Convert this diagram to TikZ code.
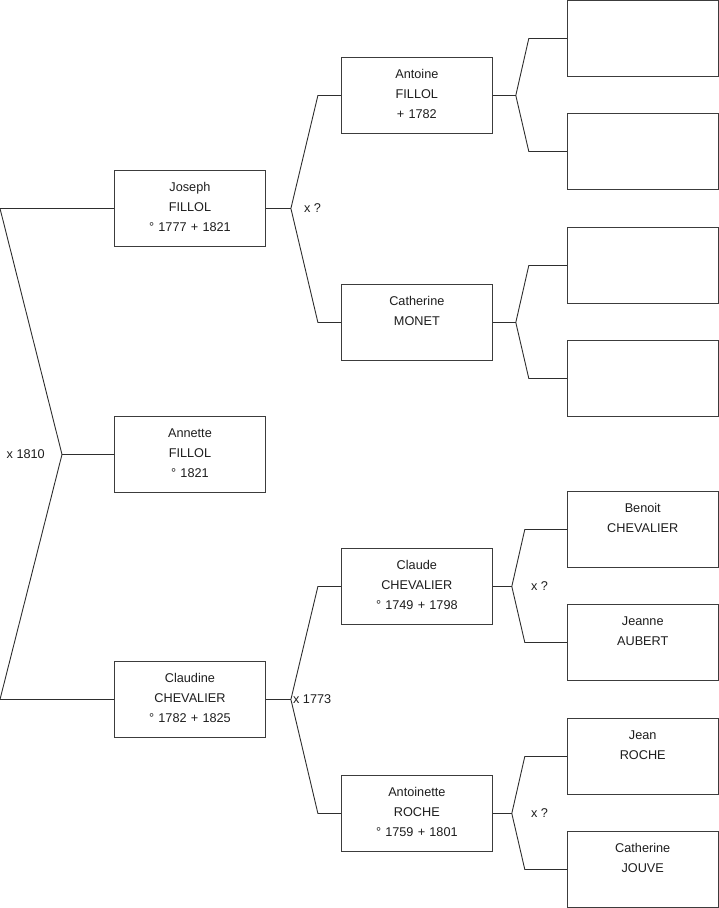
\documentclass[tikz,border=0pt]{standalone}
\usepackage{fontspec}
\setmainfont{Liberation Sans}
\usepackage{tikz}
\usetikzlibrary{positioning}
\definecolor{boxline}{HTML}{3C3C3C}
\definecolor{linkline}{HTML}{2E2E2E}
\definecolor{nametext}{HTML}{1E1E1E}
\tikzset{
  % Person boxes, text set from the top
  person/.style={
    rectangle, draw=boxline, line width=0.9pt, fill=white,
    inner sep=0pt, text width=151pt, align=center,
    text height=21pt, text depth=55pt, text=nametext,
    font=\fontsize{12.7}{20}\selectfont,
  },
  % Family connectors
  link/.style={draw=linkline, line width=0.9pt},
  % Marriage labels
  union/.style={font=\fontsize{12.7}{15}\selectfont, text=nametext, inner sep=1pt},
}
\begin{document}
\begin{tikzpicture}[x=1pt, y=-1pt]
  \useasboundingbox (0,0) rectangle (719,908);

  % Generation 1
  \node[person, anchor=north west] (annette) at (114,416) {Annette\\FILLOL\\° 1821};
  \node[person, anchor=north west] (joseph) at (114,170) {Joseph\\FILLOL\\° 1777 + 1821};
  \node[person, anchor=north west] (claudine) at (114,661) {Claudine\\CHEVALIER\\° 1782 + 1825};

  % Generation 2
  \node[person, right=75pt of joseph, yshift=113pt] (antoine) {Antoine\\FILLOL\\ + 1782};
  \node[person, right=75pt of joseph, yshift=-114pt] (catherine) {Catherine\\MONET};
  \node[person, right=75pt of claudine, yshift=113pt] (claude) {Claude\\CHEVALIER\\° 1749 + 1798};
  \node[person, right=75pt of claudine, yshift=-114pt] (antoinette) {Antoinette\\ROCHE\\° 1759 + 1801};

  % Generation 3
  \node[person, right=74pt of antoine, yshift=57pt] (antoinefa) {};
  \node[person, right=74pt of antoine, yshift=-56pt] (antoinemo) {};
  \node[person, right=74pt of catherine, yshift=57pt] (catherinefa) {};
  \node[person, right=74pt of catherine, yshift=-56pt] (catherinemo) {};
  \node[person, right=74pt of claude, yshift=57pt] (benoit) {Benoit\\CHEVALIER};
  \node[person, right=74pt of claude, yshift=-56pt] (jeanne) {Jeanne\\AUBERT};
  \node[person, right=74pt of antoinette, yshift=57pt] (jean) {Jean\\ROCHE};
  \node[person, right=74pt of antoinette, yshift=-56pt] (catherinej) {Catherine\\JOUVE};

  % Connectors
  \coordinate (rootx) at ([xshift=-52pt]annette.west);
  \draw[link] (annette.west) -- (rootx);
  \draw[link] (joseph.west) -- ++(-114,0) -- (rootx) -- ([xshift=-114pt]claudine.west) -- (claudine.west);
  \node[union, anchor=east] (u1810) at ([xshift=-16pt]rootx) {x 1810};

  \draw[link] (joseph.east) -- ++(25,0) coordinate (josephx);
  \draw[link] (antoine.west) -- ++(-23,0) -- (josephx) -- ([xshift=-23pt]catherine.west) -- (catherine.west);
  \node[union, anchor=west] (ujoseph) at ([xshift=12pt]josephx) {x ?};

  \draw[link] (claudine.east) -- ++(25,0) coordinate (claudinex);
  \draw[link] (claude.west) -- ++(-23,0) -- (claudinex) -- ([xshift=-23pt]antoinette.west) -- (antoinette.west);
  \node[union, anchor=west] (u1773) at ([xshift=1pt]claudinex) {x 1773};

  \draw[link] (antoine.east) -- ++(23,0) coordinate (antoinex);
  \draw[link] (antoinefa.west) -- ++(-38,0) -- (antoinex) -- ([xshift=-38pt]antoinemo.west) -- (antoinemo.west);

  \draw[link] (catherine.east) -- ++(23,0) coordinate (catherinex);
  \draw[link] (catherinefa.west) -- ++(-38,0) -- (catherinex) -- ([xshift=-38pt]catherinemo.west) -- (catherinemo.west);

  \draw[link] (claude.east) -- ++(19,0) coordinate (claudex);
  \draw[link] (benoit.west) -- ++(-42,0) -- (claudex) -- ([xshift=-42pt]jeanne.west) -- (jeanne.west);
  \node[union, anchor=west] (uclaude) at ([xshift=18pt]claudex) {x ?};

  \draw[link] (antoinette.east) -- ++(19,0) coordinate (antoinettex);
  \draw[link] (jean.west) -- ++(-42,0) -- (antoinettex) -- ([xshift=-42pt]catherinej.west) -- (catherinej.west);
  \node[union, anchor=west] (uantoinette) at ([xshift=18pt]antoinettex) {x ?};

\end{tikzpicture}
\end{document}
